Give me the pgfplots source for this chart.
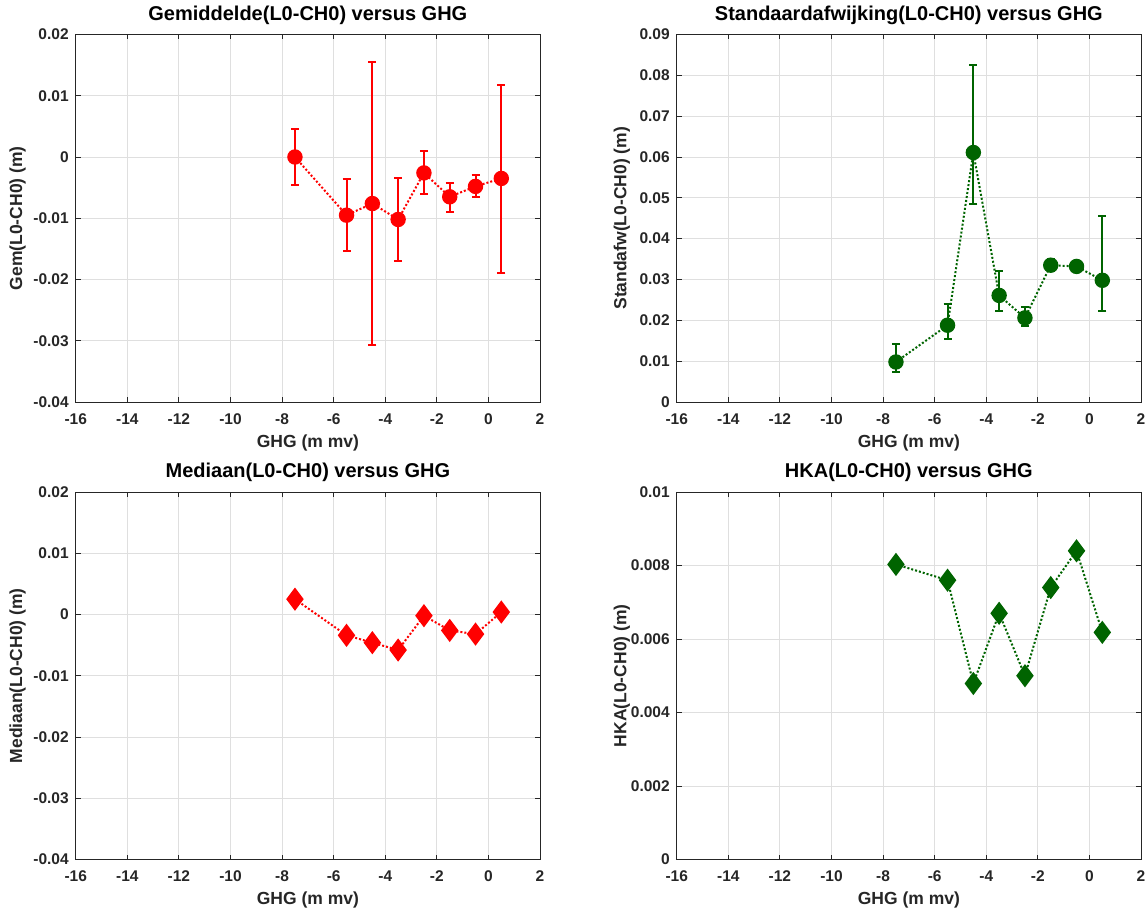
\documentclass[border=0pt]{standalone}
\usepackage{fontspec}
\setmainfont{Liberation Sans}
\usepackage{pgfplots}
\usepackage{pgfplotstable}
\pgfplotsset{compat=1.18}
\definecolor{mlgreen}{RGB}{0,100,0}
\definecolor{mlaxis}{RGB}{38,38,38}
\definecolor{mlgrid}{RGB}{223,223,223}

\pgfplotstableread{
x y ep em
-7.5 0.0000 0.0046 0.0045
-5.5 -0.0095 0.0059 0.0059
-4.5 -0.0076 0.0231 0.0231
-3.5 -0.0102 0.0068 0.0067
-2.5 -0.0026 0.0035 0.0035
-1.5 -0.0065 0.0023 0.0024
-0.5 -0.0048 0.0018 0.0018
0.5 -0.0035 0.0153 0.0154
}\gemtable

\pgfplotstableread{
x y ep em
-7.5 0.0098 0.0043 0.0024
-5.5 0.0188 0.0051 0.0033
-4.5 0.0611 0.0215 0.0125
-3.5 0.0261 0.0059 0.0039
-2.5 0.0206 0.0027 0.0021
-1.5 0.0335 0.0016 0.0013
-0.5 0.0332 0.0006 0.0005
0.5 0.0298 0.0157 0.0076
}\stdtable

\pgfplotstableread{
x y
-7.5 0.0025
-5.5 -0.0034
-4.5 -0.0046
-3.5 -0.0058
-2.5 -0.0002
-1.5 -0.0026
-0.5 -0.0032
0.5 0.0004
}\medtable

\pgfplotstableread{
x y
-7.5 0.00803
-5.5 0.00760
-4.5 0.00479
-3.5 0.00670
-2.5 0.00500
-1.5 0.00740
-0.5 0.00840
0.5 0.00618
}\hkatable

\pgfplotsset{
  mlstyle/.style={
    scale only axis, width=464.3pt, height=367.5pt,
    xmin=-16, xmax=2, xtick={-16,-14,...,2},
    axis line style={draw=mlaxis, line width=0.8pt},
    tick style={draw=mlaxis, line width=0.8pt},
    major tick length=5pt, tick align=inside,
    grid=major, major grid style={draw=mlgrid, line width=0.8pt},
    /pgf/number format/assume math mode=true,
    ticklabel style={font=\bfseries\fontsize{15.5}{18}\selectfont, text=black!85},
    scaled y ticks=false,
    yticklabel style={xshift=-3.5pt, /pgf/number format/fixed, /pgf/number format/precision=3},
    xticklabel style={yshift=-8pt, /pgf/number format/fixed},
    title style={font=\bfseries\fontsize{20}{23}\selectfont, at={(axis description cs:0.5,1.036)}, anchor=center},
    xlabel style={font=\bfseries\fontsize{17.5}{20}\selectfont, at={(axis description cs:0.5,-0.111)}, anchor=center, text=black!85},
    ylabel style={font=\bfseries\fontsize{17.5}{20}\selectfont, at={(axis description cs:-0.125,0.5)}, anchor=center, text=black!85},
    xlabel={GHG (m mv)},
  },
  eb/.style={
    line width=2pt, dash pattern=on 2pt off 2pt, #1,
    mark=*, mark size=6.7pt, mark options={solid, fill=#1, draw=#1},
    error bars/.cd, y dir=both, y explicit,
    error bar style={solid, line width=2pt, #1},
    error mark options={solid, line width=2pt, mark size=4pt, #1, rotate=90},
  },
  dm/.style={
    line width=2pt, dash pattern=on 2pt off 2pt, #1,
    mark=diamond*, mark size=10pt, mark options={solid, fill=#1, draw=#1},
  },
}

\begin{document}
\begin{tikzpicture}[x=1pt,y=1pt]
\useasboundingbox (0,0) rectangle (1148,913);

\begin{axis}[mlstyle, at={(75.7pt,511pt)}, anchor=south west,
  ymin=-0.04, ymax=0.02, ytick={-0.04,-0.03,...,0.02},
  title={Gemiddelde(L0-CH0) versus GHG}, ylabel={Gem(L0-CH0) (m)}]
\addplot+[eb=red] table[x=x, y=y, y error plus=ep, y error minus=em] {\gemtable};
\end{axis}

\begin{axis}[mlstyle, at={(676.7pt,511pt)}, anchor=south west,
  ymin=0, ymax=0.09, ytick={0,0.01,...,0.09},
  ylabel style={at={(axis description cs:-0.118,0.5)}},
  title={Standaardafwijking(L0-CH0) versus GHG}, ylabel={Standafw(L0-CH0) (m)}]
\addplot+[eb=mlgreen] table[x=x, y=y, y error plus=ep, y error minus=em] {\stdtable};
\end{axis}

\begin{axis}[mlstyle, at={(75.7pt,53.5pt)}, anchor=south west,
  ymin=-0.04, ymax=0.02, ytick={-0.04,-0.03,...,0.02},
  title={Mediaan(L0-CH0) versus GHG}, ylabel={Mediaan(L0-CH0) (m)}]
\addplot+[dm=red] table[x=x, y=y] {\medtable};
\end{axis}

\begin{axis}[mlstyle, at={(676.7pt,53.5pt)}, anchor=south west,
  ymin=0, ymax=0.01, ytick={0,0.002,...,0.01},
  ylabel style={at={(axis description cs:-0.118,0.5)}},
  title={HKA(L0-CH0) versus GHG}, ylabel={HKA(L0-CH0) (m)}]
\addplot+[dm=mlgreen] table[x=x, y=y] {\hkatable};
\end{axis}
\end{tikzpicture}
\end{document}
